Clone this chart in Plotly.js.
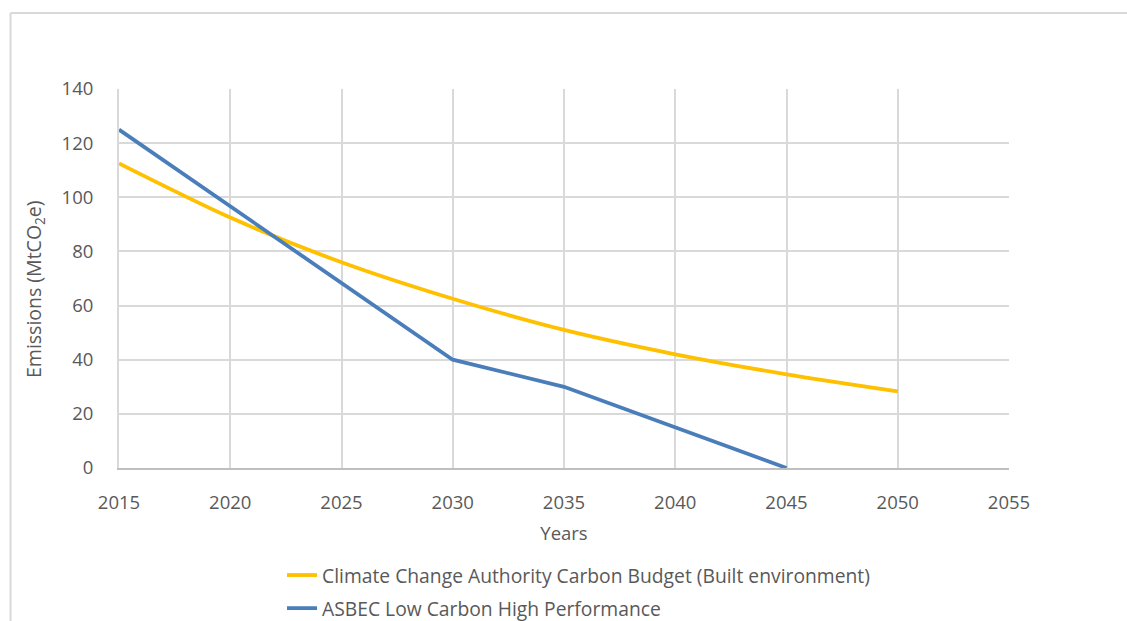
<!DOCTYPE html>
<html>
<head>
<meta charset="utf-8">
<script src="https://cdn.plot.ly/plotly-3.0.1.min.js"></script>
<style>
html,body{margin:0;padding:0;background:#fff;}
#chart{width:1127px;height:621px;}
</style>
</head>
<body>
<div id="chart"></div>
<script>
const years = [2015, 2020, 2025, 2030, 2035, 2040, 2045, 2050];
const ccaBudget = [112.5, 92.5, 76, 62.5, 51, 42, 34.6, 28.3];
const asbecYears = [2015, 2030, 2035, 2040, 2045];
const asbecValues = [125, 40, 30, 15, 0];
const seriesNames = ["Climate Change Authority Carbon Budget (Built environment)", "ASBEC Low Carbon High Performance"];
const xTicks = [2015, 2020, 2025, 2030, 2035, 2040, 2045, 2050, 2055];
const yTicks = [0, 20, 40, 60, 80, 100, 120, 140];
const xTitle = "Years";
const yTitle = "Emissions (MtCO<sub>2</sub>e)";

const L = 119, R = 118, T = 89, B = 153, W = 1127 - L - R, H = 621 - T - B;
const px = v => (v - L) / W;
const py = v => 1 - (v - T) / H;

const font = {family: "Open Sans, Liberation Sans, sans-serif", color: "#595959", size: 18.5};
const legendFont = {family: font.family, color: "#595959", size: 19.3};

const traces = [
  {x: years, y: ccaBudget, name: seriesNames[0], mode: "lines", legendgroup: "a",
   line: {color: "#FFC000", width: 3.8, shape: "spline", smoothing: 0.8}},
  {x: asbecYears, y: asbecValues, name: seriesNames[1], mode: "lines", legendgroup: "b",
   line: {color: "#4A7EBB", width: 3.8}}
];

const layout = {
  width: 1127, height: 621,
  margin: {l: L, r: R, t: T, b: B, autoexpand: false},
  paper_bgcolor: "#fff", plot_bgcolor: "#fff",
  font: font,
  showlegend: true,
  legend: {x: px(282), y: py(556), xanchor: "left", yanchor: "top", orientation: "v",
           font: legendFont, traceorder: "grouped", tracegroupgap: 5,
           bgcolor: "rgba(0,0,0,0)"},
  xaxis: {range: [2015, 2055], tickvals: xTicks, ticktext: xTicks.map(String),
          showgrid: true, gridcolor: "#d9d9d9", gridwidth: 2,
          showline: true, linecolor: "#bfbfbf", linewidth: 2,
          ticks: "", ticklabelstandoff: 17, zeroline: false, tickfont: font,
          title: {text: xTitle, font: font, standoff: 14}},
  yaxis: {range: [0, 140], tickvals: yTicks, ticktext: yTicks.map(String),
          showgrid: true, gridcolor: "#d9d9d9", gridwidth: 2,
          showline: true, linecolor: "#d9d9d9", linewidth: 2,
          ticks: "", ticklabelstandoff: 20, zeroline: false, tickfont: font},
  annotations: [
    {text: yTitle, xref: "paper", yref: "paper", x: px(34), y: py(289),
     xanchor: "center", yanchor: "middle", textangle: -90, showarrow: false,
     font: {family: font.family, color: "#595959", size: 19.5}}
  ],
  shapes: [
    {type: "line", xref: "paper", yref: "paper", x0: px(10.5), x1: px(10.5), y0: py(13), y1: py(640),
     line: {color: "#d9d9d9", width: 2}},
    {type: "line", xref: "paper", yref: "paper", x0: px(10.5), x1: px(1140), y0: py(13), y1: py(13),
     line: {color: "#d9d9d9", width: 2}}
  ]
};

Plotly.newPlot("chart", traces, layout, {displayModeBar: false, staticPlot: true});
</script>
</body>
</html>
